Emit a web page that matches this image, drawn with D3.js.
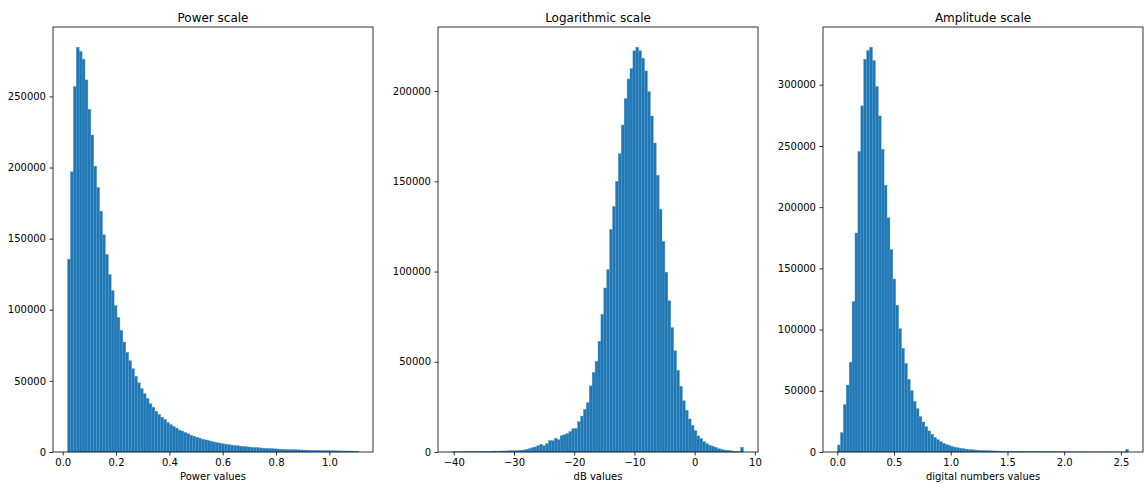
<!DOCTYPE html>
<html>
<head>
<meta charset="utf-8">
<script src="https://cdn.jsdelivr.net/npm/d3@7"></script>
<style>
  body { margin: 0; background: #fff; }
  text { font-family: 'DejaVu Sans', sans-serif; fill: #000; }
</style>
</head>
<body>
<script>
// histogram counts, 100 bins each
var powerCounts = [
  135600, 197000, 256900, 284600, 281600, 276200, 261600, 241000, 222900, 201000,
  186000, 169400, 152700, 138900, 124800, 113500, 102900, 94500, 85600, 77300,
  70100, 64200, 58600, 53200, 48700, 44500, 41000, 37700, 33900, 31500,
  28700, 26400, 24500, 22900, 20800, 19200, 18000, 16800, 15400, 14700,
  13700, 12800, 11800, 11100, 10400, 9700, 9000, 8500, 8000, 7500,
  7000, 6600, 6200, 5800, 5500, 5200, 4900, 4600, 4400, 4100,
  3900, 3700, 3500, 3300, 3150, 3000, 2850, 2700, 2550, 2450,
  2300, 2200, 2100, 2000, 1900, 1800, 1700, 1650, 1550, 1500,
  1400, 1350, 1300, 1250, 1200, 1150, 1100, 1050, 1000, 950,
  900, 860, 820, 780, 750, 720, 690, 660, 630, 600
]
var powerRange = [0.018, 1.109]

var dbCounts = [
  150, 100, 120, 150, 200, 250, 380, 250, 300, 280,
  350, 420, 400, 450, 500, 480, 520, 550, 600, 650,
  700, 750, 820, 950, 1100, 1500, 1850, 2400, 2800, 3500,
  4250, 3500, 4600, 6300, 6300, 7600, 6800, 9000, 9600, 10200,
  11300, 12900, 13100, 16800, 19900, 23600, 27300, 36600, 44100, 50200,
  61300, 76300, 90900, 101000, 123400, 136000, 150000, 165300, 181200, 195800,
  206700, 212400, 222300, 224300, 222300, 218200, 211200, 199700, 186200, 171200,
  153300, 134600, 116700, 99600, 83800, 68900, 56100, 45300, 36400, 28400,
  23100, 18300, 14800, 11800, 8900, 7400, 5700, 4600, 3700, 3200,
  2600, 1800, 1500, 1100, 900, 700, 500, 400, 300, 2600
]
var dbRange = [-40.2, 8.1]

var ampCounts = [
  5700, 15800, 38700, 54700, 73300, 122800, 178900, 245400, 282700, 320800,
  327900, 330600, 319700, 298500, 274500, 247300, 217900, 191400, 165300, 141300,
  119900, 100700, 84700, 72400, 59400, 50100, 41400, 35400, 28900, 24500,
  20700, 17200, 14500, 12000, 10100, 8400, 7100, 6000, 5200, 4300,
  3900, 3400, 3000, 2600, 2300, 2000, 1800, 1600, 1450, 1300,
  1200, 1100, 1000, 920, 850, 780, 720, 660, 610, 560,
  520, 480, 450, 420, 390, 360, 340, 320, 300, 280,
  260, 245, 230, 215, 200, 190, 180, 170, 160, 150,
  140, 130, 125, 120, 110, 105, 100, 95, 90, 85,
  80, 75, 70, 65, 60, 55, 55, 50, 60, 2200
]
var ampRange = [0.002, 2.567]

// tick labels
var powerXTicks = [0, 0.2, 0.4, 0.6, 0.8, 1.0]
var dbXTicks = [-40, -30, -20, -10, 0, 10]
var ampXTicks = [0, 0.5, 1.0, 1.5, 2.0, 2.5]
var powerYTicks = [0, 50000, 100000, 150000, 200000, 250000]
var dbYTicks = [0, 50000, 100000, 150000, 200000]
var ampYTicks = [0, 50000, 100000, 150000, 200000, 250000, 300000]

var titles = ['Power scale', 'Logarithmic scale', 'Amplitude scale']
var xLabels = ['Power values', 'dB values', 'digital numbers values']

var panels = [
  { counts: powerCounts, range: powerRange, xticks: powerXTicks, yticks: powerYTicks, xfmt: d3.format('.1f') },
  { counts: dbCounts, range: dbRange, xticks: dbXTicks, yticks: dbYTicks, xfmt: d3.format('d') },
  { counts: ampCounts, range: ampRange, xticks: ampXTicks, yticks: ampYTicks, xfmt: d3.format('.1f') }
]

var W = 1144, H = 484
var lefts = [53, 438, 823]
var plotTop = 27, pw = 320, ph = 425

var svg = d3.select('body').append('svg')
  .attr('width', W)
  .attr('height', H)

panels.forEach((p, i) => {
  var n = p.counts.length
  var step = (p.range[1] - p.range[0]) / n
  var pad = (p.range[1] - p.range[0]) * 0.05
  var bins = p.counts.map((c, k) => ({ x0: p.range[0] + k * step, x1: p.range[0] + (k + 1) * step, c: c }))

  var x = d3.scaleLinear()
    .domain([p.range[0] - pad, p.range[1] + pad])
    .range([0, pw])
  var y = d3.scaleLinear()
    .domain([0, d3.max(p.counts) * 1.05])
    .range([ph, 0])

  var g = svg.append('g')
    .attr('transform', 'translate(' + lefts[i] + ',' + plotTop + ')')

  // bars, thin light edge gives the soft seams seen between bins
  g.selectAll('rect.bar')
    .data(bins)
    .enter().append('rect')
    .attr('class', 'bar')
    .attr('x', d => x(d.x0))
    .attr('width', d => x(d.x1) - x(d.x0))
    .attr('y', d => y(d.c))
    .attr('height', d => ph - y(d.c))
    .attr('fill', '#1f77b4')
    .attr('stroke', '#4f94c9')
    .attr('stroke-width', 0.4)

  // x axis
  var xa = g.append('g')
    .attr('transform', 'translate(0,' + ph + ')')
    .call(d3.axisBottom(x).tickValues(p.xticks).tickFormat(p.xfmt)
      .tickSizeInner(3.5).tickSizeOuter(0).tickPadding(3.5))
  xa.select('.domain').remove()
  xa.selectAll('line').attr('stroke', '#000').attr('stroke-width', 0.8)
  xa.selectAll('text').attr('font-size', 10).attr('font-family', 'DejaVu Sans')

  // y axis
  var ya = g.append('g')
    .call(d3.axisLeft(y).tickValues(p.yticks).tickFormat(d3.format('d'))
      .tickSizeInner(3.5).tickSizeOuter(0).tickPadding(3.5))
  ya.select('.domain').remove()
  ya.selectAll('line').attr('stroke', '#000').attr('stroke-width', 0.8)
  ya.selectAll('text').attr('font-size', 10).attr('font-family', 'DejaVu Sans')

  // spines
  g.append('rect')
    .attr('width', pw)
    .attr('height', ph)
    .attr('fill', 'none')
    .attr('stroke', '#000')
    .attr('stroke-width', 0.8)

  // title
  g.append('text')
    .attr('x', pw / 2)
    .attr('y', -5.5)
    .style('text-anchor', 'middle')
    .attr('font-size', 12)
    .text(titles[i])

  // x label
  g.append('text')
    .attr('x', pw / 2)
    .attr('y', ph + 28)
    .style('text-anchor', 'middle')
    .attr('font-size', 10)
    .text(xLabels[i])
})
</script>
</body>
</html>
